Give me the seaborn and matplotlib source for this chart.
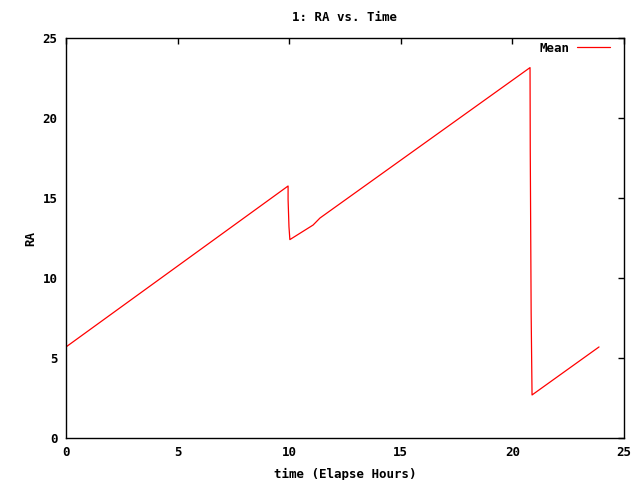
import matplotlib
matplotlib.use("Agg")
import matplotlib.pyplot as plt
import seaborn as sns
import pandas as pd

# Data
time_hours = [0.0, 9.95, 9.95, 9.99, 10.03, 11.07, 11.38, 20.79, 20.80, 20.84, 20.88, 23.88]
ra_mean = [5.69, 15.75, 14.9, 13.2, 12.4, 13.31, 13.75, 23.15, 18.0, 7.8, 2.69, 5.69]

title = "1: RA vs. Time"
xlabel = "time (Elapse Hours)"
ylabel = "RA"
series_name = "Mean"
x_ticks = [0, 5, 10, 15, 20, 25]
y_ticks = [0, 5, 10, 15, 20, 25]

df = pd.DataFrame({"time": time_hours, "RA": ra_mean, "series": series_name})

sns.set_style("white")
plt.rcParams["font.family"] = ["DejaVu Sans Mono"]
plt.rcParams["font.weight"] = "bold"
plt.rcParams["text.color"] = "black"
plt.rcParams["axes.labelcolor"] = "black"

fig = plt.figure(figsize=(6.4, 4.8), dpi=100)
ax = fig.add_axes([66 / 640, 42 / 480, (624 - 66) / 640, (438 - 38) / 480])

sns.lineplot(data=df, x="time", y="RA", sort=False, estimator=None,
             color="#ff0000", linewidth=0.9, label=series_name, ax=ax)

ax.set_xlim(0, 25)
ax.set_ylim(0, 25)
ax.set_xticks(x_ticks)
ax.set_yticks(y_ticks)
ax.tick_params(direction="in", length=4, width=1, top=True, right=True,
               labelsize=9, pad=6, colors="black")
for lab in ax.get_xticklabels() + ax.get_yticklabels():
    lab.set_fontweight("bold")
for sp in ax.spines.values():
    sp.set_visible(True)
    sp.set_color("black")
    sp.set_linewidth(1)

ax.set_title(title, fontsize=9, fontweight="bold", pad=12, color="black")
ax.set_xlabel(xlabel, fontsize=9, fontweight="bold", labelpad=6)
ax.set_ylabel(ylabel, fontsize=9, fontweight="bold", labelpad=4)

leg = ax.legend(loc="upper right", frameon=False, markerfirst=False,
                prop={"family": "DejaVu Sans Mono", "weight": "bold", "size": 9},
                handlelength=2.7, handletextpad=0.6, borderaxespad=0,
                borderpad=0.3, bbox_to_anchor=(1 - 10 / 558, 1.0))
for t in leg.get_texts():
    t.set_color("black")

fig.savefig("out.png", dpi=100, facecolor="white")
